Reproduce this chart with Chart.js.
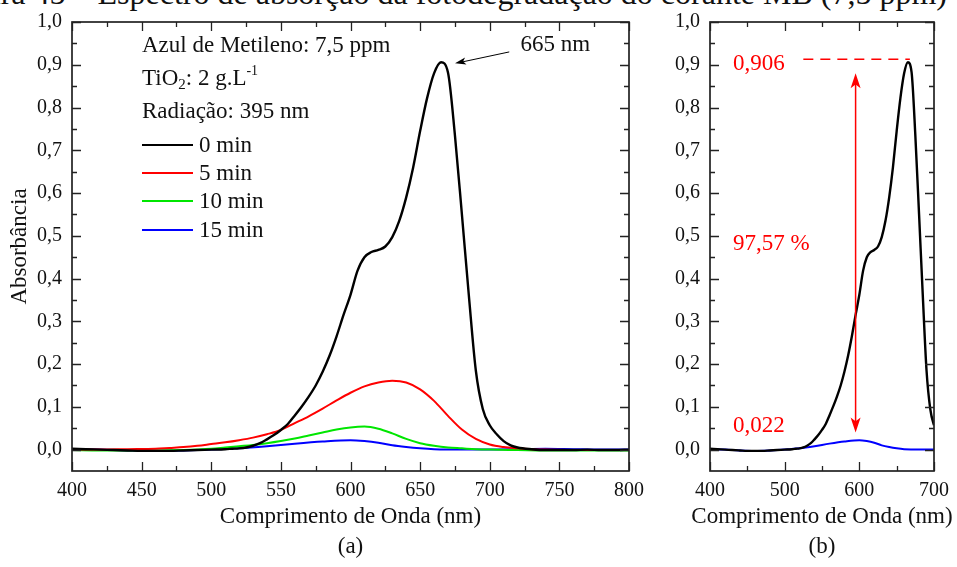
<!DOCTYPE html>
<html>
<head>
<meta charset="utf-8">
<script src="https://cdn.jsdelivr.net/npm/chart.js@4.4.1/dist/chart.umd.min.js"></script>
<style>
  html, body { margin: 0; padding: 0; background: #fff; overflow: hidden; width: 957px; height: 567px; }
  #caption { position: absolute; right: 10px; top: -23px; font: 32px "Liberation Serif", "Times New Roman", serif;
             line-height: 32px; white-space: nowrap; color: #111; }
  #chartA { position: absolute; left: 0; top: 0; }
  #chartB { position: absolute; left: 640px; top: 0; }
</style>
</head>
<body>
<div id="caption">Figura 45 – Espectro de absorção da fotodegradação do corante MB (7,5 ppm)</div>
<canvas id="chartA" width="680" height="567"></canvas>
<canvas id="chartB" width="317" height="567"></canvas>
<script>
// ---- spectra (wavelength in nm, absorbance) ----
const wl0 = [400,410,420,430,440,450,460,470,480,490,500,
  510,515,520,525,530,535,540,545,550,555,560,565,570,575,580,585,590,595,600,605,
  610,615,620,625,630,635,640,645,650,655,660,665,670,675,680,685,690,695,700,705,
  710,715,720,730,740,750,760,770,780,790,800];
const abs0 = [0.002,0.001,0.000,-0.001,-0.002,-0.003,-0.003,-0.003,-0.002,-0.001,0.000,
  0.001,0.002,0.003,0.005,0.009,0.015,0.024,0.034,0.046,0.060,0.080,0.101,0.124,0.150,0.182,0.220,0.265,0.315,0.362,0.418,
  0.450,0.462,0.467,0.475,0.497,0.535,0.590,0.660,0.745,0.822,0.880,0.906,0.882,0.735,0.550,0.360,0.185,0.095,0.057,0.036,
  0.020,0.010,0.005,0.001,-0.001,-0.001,-0.001,0.000,-0.001,-0.001,0.000];

const wl5 = [400,420,440,460,470,480,490,500,510,520,530,540,550,560,570,580,590,600,
  610,620,630,640,650,660,670,680,690,700,710,720,730,740,760,780,800];
const abs5 = [0.000,0.000,0.001,0.002,0.004,0.006,0.009,0.013,0.017,0.022,0.028,0.036,0.046,0.062,0.078,0.096,0.115,0.133,
  0.148,0.157,0.161,0.157,0.141,0.114,0.079,0.047,0.025,0.012,0.006,0.003,0.001,0.000,-0.001,-0.001,-0.001];

const wl10 = [400,420,440,460,480,500,510,520,530,540,550,560,570,580,590,600,
  610,620,630,640,650,660,670,680,690,700,720,740,760,780,800];
const abs10 = [-0.001,-0.002,-0.002,-0.002,-0.001,0.002,0.005,0.008,0.011,0.015,0.020,0.026,0.033,0.040,0.047,0.052,
  0.054,0.049,0.038,0.025,0.015,0.009,0.005,0.003,0.001,0.000,-0.001,-0.002,-0.002,-0.002,-0.002];

const wl15 = [400,420,440,460,480,500,520,540,560,580,600,610,620,630,640,650,660,680,700,720,740,760,780,800];
const abs15 = [0.001,0.000,-0.002,-0.003,-0.002,0.000,0.003,0.008,0.014,0.019,0.022,0.020,0.016,0.010,0.006,0.003,0.001,0.000,0.000,0.001,0.002,0.001,0.000,0.000];

const seriesLabels = ['0 min', '5 min', '10 min', '15 min'];
const seriesColors = ['#000000', '#ff0000', '#00e600', '#0000ff'];

// ---- axis ticks ----
const xTicksA = [400,450,500,550,600,650,700,750,800];
const xMinorA = [425,475,525,575,625,675,725,775];
const xTicksB = [400,500,600,700];
const xMinorB = [450,550,650];
const yTicks = [0,0.1,0.2,0.3,0.4,0.5,0.6,0.7,0.8,0.9,1.0];
const yMinor = [0.05,0.15,0.25,0.35,0.45,0.55,0.65,0.75,0.85,0.95];

// ---- annotation values ----
const peakWavelength = 665;
const peakAbs = 0.906;
const finalAbs = 0.022;
const removalPct = ((peakAbs - finalAbs) / peakAbs * 100).toFixed(2).replace('.', ',') + ' %';

const SERIF = '"Liberation Serif", "Times New Roman", serif';
const INK = '#111';

const pts = (xs, ys) => xs.map((x, i) => ({ x, y: ys[i] }));
const spectrum = (i, xs, ys, w) => ({
  label: seriesLabels[i], data: pts(xs, ys), borderColor: seriesColors[i],
  borderWidth: w, pointRadius: 0, fill: false, cubicInterpolationMode: 'monotone'
});

// frame on four sides with inward major/minor ticks
const frameTicks = {
  id: 'frameTicks',
  afterDatasetsDraw(chart, args, o) {
    const { ctx, chartArea: a, scales: { x, y } } = chart;
    ctx.save();
    ctx.strokeStyle = '#222';
    ctx.lineWidth = 1.3;
    const tx = (vals, len) => vals.forEach(v => {
      const p = Math.round(x.getPixelForValue(v)) + 0.5;
      ctx.beginPath();
      ctx.moveTo(p, a.bottom); ctx.lineTo(p, a.bottom - len);
      ctx.moveTo(p, a.top); ctx.lineTo(p, a.top + len);
      ctx.stroke();
    });
    const ty = (vals, len) => vals.forEach(v => {
      const p = Math.round(y.getPixelForValue(v)) + 0.5;
      ctx.beginPath();
      ctx.moveTo(a.left, p); ctx.lineTo(a.left + len, p);
      ctx.moveTo(a.right, p); ctx.lineTo(a.right - len, p);
      ctx.stroke();
    });
    tx(o.xMajor, 9); tx(o.xMinor, 5);
    ty(yTicks, 9); ty(yMinor, 5);
    ctx.lineWidth = 1.7;
    ctx.strokeRect(a.left, a.top, a.right - a.left, a.bottom - a.top);
    ctx.restore();
  }
};

function arrowHead(ctx, x1, y1, x2, y2, len, half) {
  const ang = Math.atan2(y2 - y1, x2 - x1);
  const c = Math.cos(ang), s = Math.sin(ang);
  const bx = x2 - c * len, by = y2 - s * len;
  const nx = x2 - c * len * 0.75, ny = y2 - s * len * 0.75;
  ctx.beginPath();
  ctx.moveTo(x2, y2);
  ctx.lineTo(bx - s * half, by + c * half);
  ctx.lineTo(nx, ny);
  ctx.lineTo(bx + s * half, by - c * half);
  ctx.closePath();
  ctx.fill();
}

function axisTitles(chart, letter) {
  const { ctx, chartArea: a } = chart;
  const cx = (a.left + a.right) / 2;
  ctx.fillStyle = INK;
  ctx.textAlign = 'center';
  ctx.textBaseline = 'middle';
  ctx.font = '23px ' + SERIF;
  ctx.fillText('Comprimento de Onda (nm)', cx, 517);
  ctx.fillText(letter, cx, 547);
}

const overlayA = {
  id: 'overlayA',
  afterDraw(chart) {
    const { ctx, chartArea: a, scales: { x, y } } = chart;
    ctx.save();
    axisTitles(chart, '(a)');
    // y title
    ctx.save();
    ctx.translate(20, (a.top + a.bottom) / 2);
    ctx.rotate(-Math.PI / 2);
    ctx.textAlign = 'center'; ctx.textBaseline = 'middle';
    ctx.font = '23px ' + SERIF;
    ctx.fillText('Absorbância', 0, 0);
    ctx.restore();

    // experiment conditions
    ctx.font = '23px ' + SERIF;
    ctx.textAlign = 'left'; ctx.textBaseline = 'middle';
    const lx = 142;
    ctx.fillText('Azul de Metileno: 7,5 ppm', lx, 46);
    let cx = lx;
    const seg = (t, size, dy) => {
      ctx.font = size + 'px ' + SERIF;
      ctx.fillText(t, cx, 79 + dy);
      cx += ctx.measureText(t).width;
    };
    seg('TiO', 23, 0); seg('2', 15, 6); seg(': 2 g.L', 23, 0); seg('-1', 14, -8);
    ctx.font = '23px ' + SERIF;
    ctx.fillText('Radiação: 395 nm', lx, 112);

    // legend
    const rows = [145, 173, 201, 230];
    chart.data.datasets.forEach((ds, i) => {
      ctx.strokeStyle = ds.borderColor;
      ctx.lineWidth = 2;
      ctx.beginPath();
      ctx.moveTo(lx, rows[i]); ctx.lineTo(lx + 51, rows[i]);
      ctx.stroke();
      ctx.fillStyle = INK;
      ctx.fillText(ds.label, lx + 57, rows[i] + 1);
    });

    // peak marker
    const tipX = x.getPixelForValue(peakWavelength) + 14, tipY = y.getPixelForValue(peakAbs) + 1;
    const tailX = x.getPixelForValue(714), tailY = y.getPixelForValue(0.93);
    ctx.strokeStyle = '#000'; ctx.fillStyle = '#000'; ctx.lineWidth = 1;
    ctx.beginPath(); ctx.moveTo(tailX, tailY); ctx.lineTo(tipX + 6, tipY - 1); ctx.stroke();
    arrowHead(ctx, tailX, tailY, tipX, tipY, 11, 3.5);
    ctx.fillStyle = INK;
    ctx.textAlign = 'center';
    ctx.font = '23px ' + SERIF;
    ctx.fillText(peakWavelength + ' nm', x.getPixelForValue(747), y.getPixelForValue(0.946));
    ctx.restore();
  }
};

const overlayB = {
  id: 'overlayB',
  afterDraw(chart) {
    const { ctx, chartArea: a, scales: { x, y } } = chart;
    ctx.save();
    axisTitles(chart, '(b)');
    const red = '#ff0000';
    ctx.fillStyle = red; ctx.strokeStyle = red;
    ctx.font = '23px ' + SERIF;
    ctx.textAlign = 'left'; ctx.textBaseline = 'middle';
    const tx = a.left + 23;
    ctx.fillText(peakAbs.toFixed(3).replace('.', ','), tx, y.getPixelForValue(0.9) - 1);
    ctx.fillText(removalPct, tx, y.getPixelForValue(0.482));
    ctx.fillText(finalAbs.toFixed(3).replace('.', ','), tx, y.getPixelForValue(0.056));

    // dashed level of the initial peak
    ctx.lineWidth = 1.5;
    ctx.setLineDash([10, 7]);
    ctx.beginPath();
    const py = y.getPixelForValue(peakAbs) - 3;
    ctx.moveTo(x.getPixelForValue(525), py);
    ctx.lineTo(x.getPixelForValue(peakWavelength) + 2, py);
    ctx.stroke();
    ctx.setLineDash([]);

    // double arrow between initial and final absorbance
    const ax = x.getPixelForValue(595);
    const yTop = y.getPixelForValue(peakAbs - 0.026), yBot = y.getPixelForValue(finalAbs + 0.018);
    ctx.lineWidth = 1.5;
    ctx.beginPath(); ctx.moveTo(ax, yTop + 8); ctx.lineTo(ax, yBot - 8); ctx.stroke();
    arrowHead(ctx, ax, yBot, ax, yTop, 15, 5);
    arrowHead(ctx, ax, yTop, ax, yBot, 15, 5);
    ctx.restore();
  }
};

function baseOptions(xMin, xMax, xMajor, xMinor, yWidth, padRight) {
  return {
    responsive: false, animation: false, devicePixelRatio: 1,
    layout: { padding: { left: 0, right: padRight, top: 22, bottom: 0 } },
    plugins: { legend: { display: false }, tooltip: { enabled: false },
               frameTicks: { xMajor, xMinor } },
    scales: {
      x: {
        type: 'linear', min: xMin, max: xMax,
        grid: { display: false, drawTicks: false }, border: { display: false },
        afterBuildTicks: s => { s.ticks = xMajor.map(v => ({ value: v })); },
        afterFit: s => { s.height = 96; },
        ticks: { font: { family: SERIF, size: 20 }, color: INK, padding: 8, maxRotation: 0, autoSkip: false }
      },
      y: {
        type: 'linear', min: -0.05, max: 1.0,
        grid: { display: false, drawTicks: false }, border: { display: false },
        afterBuildTicks: s => { s.ticks = yTicks.map(v => ({ value: v })); },
        afterFit: s => { s.width = yWidth; },
        ticks: { font: { family: SERIF, size: 20 }, color: INK, padding: 10,
                 callback: v => v.toFixed(1).replace('.', ',') }
      }
    }
  };
}

new Chart(document.getElementById('chartA'), {
  type: 'line',
  data: { datasets: [
    spectrum(0, wl0, abs0, 2.4),
    spectrum(1, wl5, abs5, 2),
    spectrum(2, wl10, abs10, 2),
    spectrum(3, wl15, abs15, 2)
  ] },
  options: baseOptions(400, 800, xTicksA, xMinorA, 72, 51),
  plugins: [frameTicks, overlayA]
});

new Chart(document.getElementById('chartB'), {
  type: 'line',
  data: { datasets: [
    spectrum(0, wl0, abs0, 2.4),
    spectrum(3, wl15, abs15, 2)
  ] },
  options: baseOptions(400, 700, xTicksB, xMinorB, 70, 19),
  plugins: [frameTicks, overlayB]
});
</script>
</body>
</html>
